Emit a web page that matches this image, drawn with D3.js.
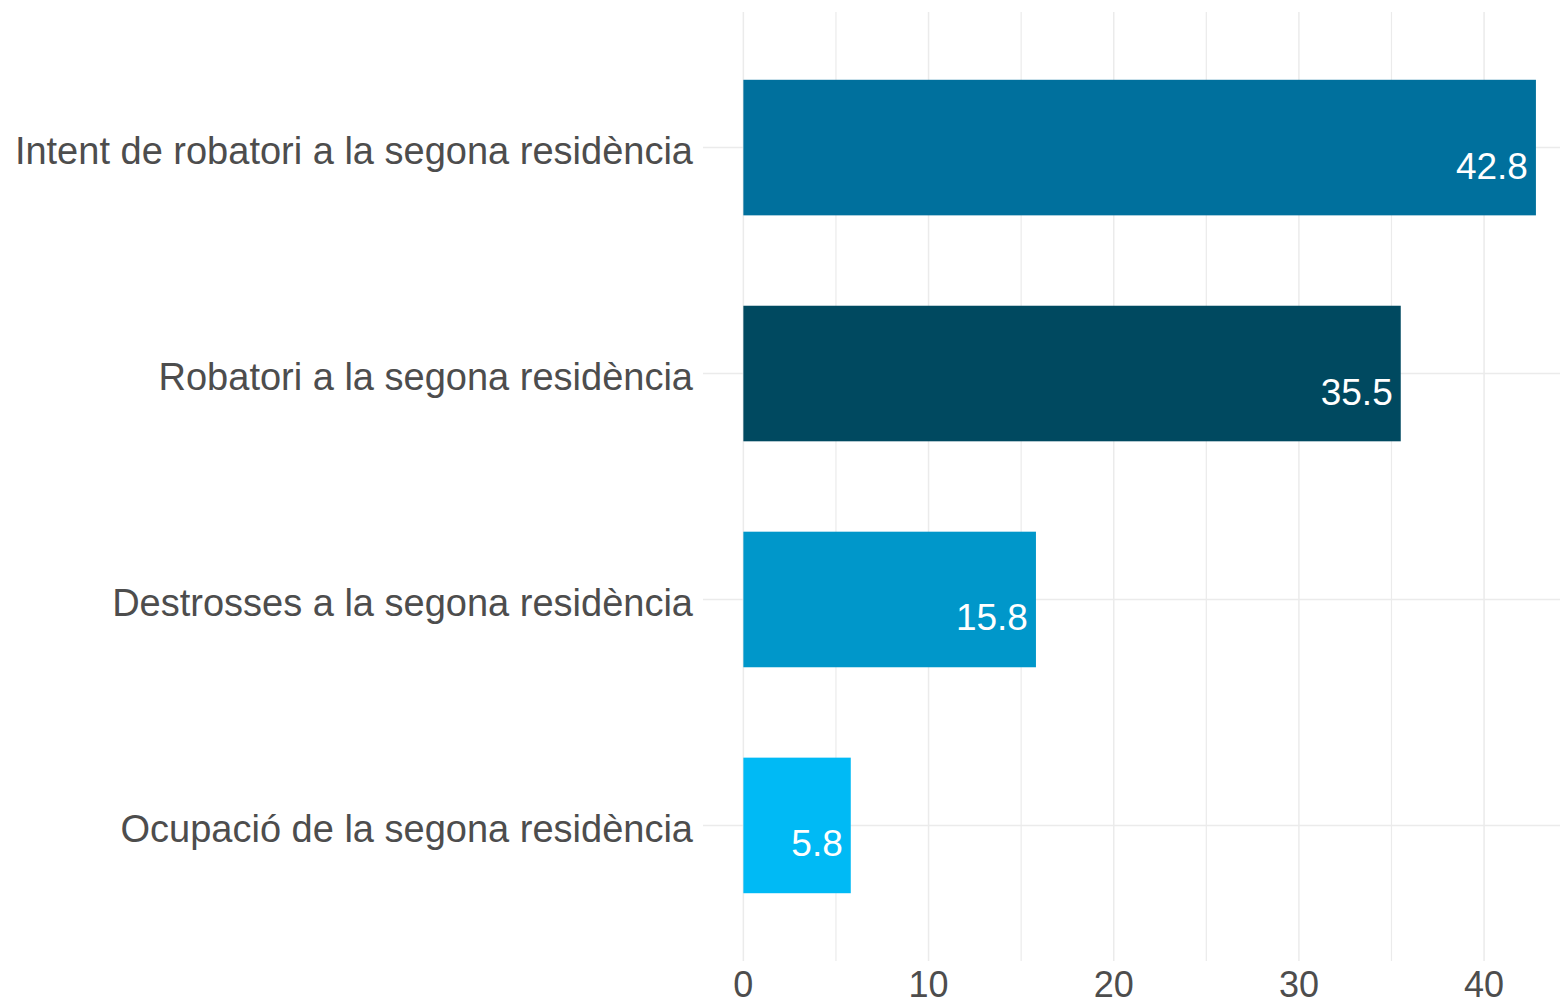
<!DOCTYPE html>
<html>
<head>
<meta charset="utf-8">
<script src="https://cdn.jsdelivr.net/npm/d3@7"></script>
<style>
	body { margin: 0; background: #fff; }
	text { font-family: "Liberation Sans", Arial, sans-serif; }
</style>
</head>
<body>
<svg id="chart" width="1560" height="1004"></svg>
<script>
const categories = [
	'Intent de robatori a la segona residència',
	'Robatori a la segona residència',
	'Destrosses a la segona residència',
	'Ocupació de la segona residència',
]
const values = [42.8, 35.5, 15.8, 5.8]
const colors = ['#00709d', '#004960', '#0097ca', '#00baf5']
const ticks = [0, 10, 20, 30, 40]
const minorTicks = [5, 15, 25, 35]

const svg = d3.select('#chart')
const margin = { top: 12, right: 0, bottom: 43, left: 703 }
const W = 1560, H = 1004

// x: 0 -> ~743, 40 -> ~1485 (ggplot style expansion on the left)
const x = d3.scaleLinear().domain([-2.18, 44.1]).range([margin.left, W - margin.right])
const y = d3.scaleBand().domain(categories)
	.range([margin.top, H - margin.bottom])
	.paddingInner(0.4).paddingOuter(0.3)

const grid = svg.append('g')
grid.selectAll('line.minor').data(minorTicks).enter().append('line')
	.attr('class', 'minor')
	.attr('x1', d => x(d)).attr('x2', d => x(d))
	.attr('y1', margin.top).attr('y2', H - margin.bottom)
	.attr('stroke', '#ebebeb').attr('stroke-width', 1.2)
grid.selectAll('line.major').data(ticks).enter().append('line')
	.attr('class', 'major')
	.attr('x1', d => x(d)).attr('x2', d => x(d))
	.attr('y1', margin.top).attr('y2', H - margin.bottom)
	.attr('stroke', '#ebebeb').attr('stroke-width', 1.5)
grid.selectAll('line.hz').data(categories).enter().append('line')
	.attr('class', 'hz')
	.attr('x1', margin.left).attr('x2', W)
	.attr('y1', d => y(d) + y.bandwidth() / 2).attr('y2', d => y(d) + y.bandwidth() / 2)
	.attr('stroke', '#ebebeb').attr('stroke-width', 1.5)

svg.append('g').selectAll('rect').data(values).enter().append('rect')
	.attr('x', x(0))
	.attr('y', (d, i) => y(categories[i]))
	.attr('width', d => x(d) - x(0))
	.attr('height', y.bandwidth())
	.attr('fill', (d, i) => colors[i])

svg.append('g').selectAll('text').data(values).enter().append('text')
	.attr('x', d => x(d) - 8)
	.attr('y', (d, i) => y(categories[i]) + y.bandwidth() / 2 + 31)
	.attr('text-anchor', 'end')
	.attr('fill', '#fff')
	.style('font-size', '37px')
	.text(d => d.toFixed(1))

svg.append('g').selectAll('text').data(categories).enter().append('text')
	.attr('x', margin.left - 10)
	.attr('y', d => y(d) + y.bandwidth() / 2)
	.attr('dy', '0.44em')
	.attr('text-anchor', 'end')
	.attr('fill', '#4d4d4d')
	.style('font-size', '38px')
	.text(d => d)

svg.append('g').selectAll('text').data(ticks).enter().append('text')
	.attr('x', d => x(d))
	.attr('y', 997)
	.attr('text-anchor', 'middle')
	.attr('fill', '#4d4d4d')
	.style('font-size', '36px')
	.text(d => d)
</script>
</body>
</html>
